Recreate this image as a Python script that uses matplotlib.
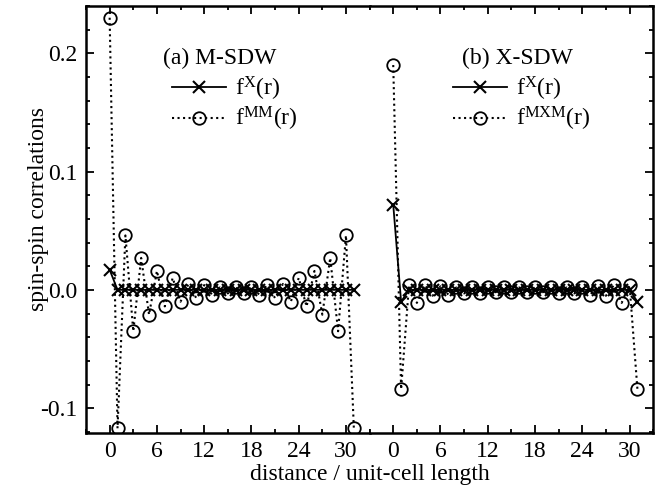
import matplotlib
matplotlib.use("Agg")
import matplotlib.pyplot as plt
from matplotlib.ticker import MultipleLocator

plt.rcParams['font.family'] = ['Liberation Serif', 'DejaVu Serif']
plt.rcParams['mathtext.fontset'] = 'custom'
plt.rcParams['mathtext.rm'] = 'Liberation Serif'
plt.rcParams['mathtext.it'] = 'Liberation Serif'

# ---------------- data ----------------
r = list(range(32))

fx_a = [0.017] + [0.0] * 31
fmm_a = [0.230, -0.117, 0.046, -0.035, 0.027, -0.021, 0.016, -0.014,
         0.010, -0.010, 0.005, -0.007, 0.004, -0.004, 0.002, -0.003,
         0.002, -0.003, 0.002, -0.004, 0.004, -0.007, 0.005, -0.010,
         0.010, -0.014, 0.016, -0.021, 0.027, -0.035, 0.046, -0.117]

fx_b = [0.072, -0.010] + [0.0] * 29 + [-0.010]
fmxm_b = [0.190, -0.084, 0.004, -0.011, 0.004, -0.005, 0.003, -0.004,
          0.002, -0.003, 0.002, -0.003, 0.002, -0.002, 0.002, -0.002,
          0.002, -0.002, 0.002, -0.002, 0.002, -0.003, 0.002, -0.003,
          0.002, -0.004, 0.003, -0.005, 0.004, -0.011, 0.004, -0.084]

xticks = [0, 6, 12, 18, 24, 30]
yticks = [-0.1, 0.0, 0.1, 0.2]
ytick_labels = ['-0.1', '0.0', '0.1', '0.2']

titles = ['(a) M-SDW', '(b) X-SDW']
labels_x = [r'f$^{\mathrm{X}}$(r)', r'f$^{\mathrm{X}}$(r)']
labels_m = [r'f$^{\mathrm{MM}}$(r)', r'f$^{\mathrm{MXM}}$(r)']
title_x = [0.2715, 0.326]
legend_x = [0.303, 0.294]

# ---------------- figure ----------------
fig = plt.figure(figsize=(6.72, 4.91), dpi=100)
gs = fig.add_gridspec(1, 2, left=0.128, right=0.972, bottom=0.1181, top=0.988, wspace=0)
ax1 = fig.add_subplot(gs[0, 0])
ax2 = fig.add_subplot(gs[0, 1], sharey=ax1)

series = [(ax1, fx_a, fmm_a), (ax2, fx_b, fmxm_b)]
for i, (ax, fx, fm) in enumerate(series):
    l1, = ax.plot(r, fx, '-', color='black', lw=1.3, marker='x', ms=8, mew=1.5,
                  label=labels_x[i], zorder=3)
    l2, = ax.plot(r, fm, ':', color='black', lw=1.5, marker='o', ms=9, mew=1.3,
                  mfc='none', label=labels_m[i], zorder=2)
    ax.set_xlim(-3, 33)
    ax.set_ylim(-0.121, 0.240)
    ax.set_xticks(xticks)
    ax.xaxis.set_minor_locator(MultipleLocator(3))
    ax.yaxis.set_minor_locator(MultipleLocator(0.02))
    ax.tick_params(which='both', direction='in', top=True, bottom=True,
                   labelsize=17, width=1.3, pad=6)
    ax.tick_params(which='major', length=6)
    ax.tick_params(which='minor', length=3)
    for s in ax.spines.values():
        s.set_linewidth(1.8)
    ax.text(title_x[i], 0.878, titles[i], transform=ax.transAxes, ha='left',
            va='center', fontsize=17)
    ax.legend(handles=[l1, l2], loc='center left',
              bbox_to_anchor=(legend_x[i], 0.770), frameon=False, fontsize=17,
              handlelength=2.3, handletextpad=0.35, labelspacing=0.1,
              borderpad=0, borderaxespad=0)

ax1.spines['right'].set_visible(False)
ax2.spines['left'].set_visible(False)
ax1.tick_params(which='both', left=True, right=False)
ax2.tick_params(which='both', left=False, right=True, labelleft=False)
ax1.set_yticks(yticks)
ax1.set_yticklabels(ytick_labels)

ax1.set_ylabel('spin-spin correlations', fontsize=17)
ax1.yaxis.set_label_coords(-0.13, 0.525)
fig.text((0.128 + 0.972) / 2, 0.012, 'distance / unit-cell length', ha='center',
         va='bottom', fontsize=17)

fig.savefig('out.png', dpi=100)
